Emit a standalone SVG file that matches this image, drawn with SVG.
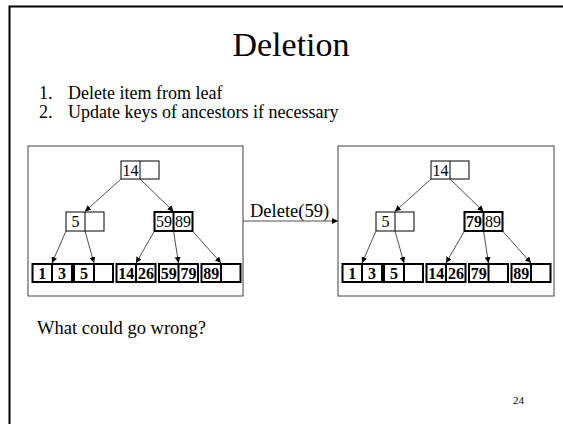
<svg xmlns="http://www.w3.org/2000/svg" width="563" height="424" viewBox="0 0 563 424">
  <style>
    text { font-family: "Liberation Serif", "Times New Roman", serif; fill: #000; }
    .title { font-size: 34px; text-anchor: middle; }
    .body { font-size: 18.5px; }
    .list { font-size: 18px; }
    .num { font-size: 11px; }
    .k { font-size: 16px; text-anchor: middle; }
    .kb { font-size: 16px; text-anchor: middle; font-weight: bold; }
    .panel { fill: #fff; stroke: #404040; stroke-width: 1; }
    .thin { fill: #fff; stroke: #000; stroke-width: 1; }
    .thick { fill: #fff; stroke: #000; stroke-width: 2; }
    .sep1 { stroke: #000; stroke-width: 1; }
    .sep2 { stroke: #000; stroke-width: 2; }
    .edge { stroke: #222; stroke-width: 0.8; fill: none; marker-end: url(#tip); }
  </style>
  <defs>
    <marker id="tip" markerUnits="userSpaceOnUse" markerWidth="6" markerHeight="6" refX="6" refY="3" orient="auto">
      <path d="M0,0 L6,3 L0,6 z" fill="#000"/>
    </marker>
  </defs>

  <rect width="563" height="424" fill="#fff"/>
  <!-- slide frame -->
  <rect x="9.5" y="6.5" width="600" height="500" fill="none" stroke="#000" stroke-width="2"/>

  <text class="title" x="291" y="56">Deletion</text>
  <text class="list" x="39" y="99">1.</text>
  <text class="list" x="68" y="99">Delete item from leaf</text>
  <text class="list" x="39" y="118">2.</text>
  <text class="list" x="68" y="118">Update keys of ancestors if necessary</text>

  <!-- before -->
  <g id="tree-before">
    <rect class="panel" x="28" y="146" width="215" height="150"/>
    <g id="b-connectors">
      <line class="edge" x1="121" y1="179" x2="85" y2="211.5"/>
      <line class="edge" x1="140" y1="179" x2="173.5" y2="211.5"/>
      <line class="edge" x1="66" y1="231" x2="52" y2="263"/>
      <line class="edge" x1="85" y1="231" x2="94" y2="263"/>
      <line class="edge" x1="154.5" y1="231" x2="136" y2="263"/>
      <line class="edge" x1="173.5" y1="231" x2="178.5" y2="263"/>
      <line class="edge" x1="192.5" y1="231" x2="221" y2="263"/>
    </g>
    <g id="b-root">
      <rect class="thin" x="121" y="161" width="38" height="18"/>
      <line class="sep1" x1="140" y1="161" x2="140" y2="179"/>
      <text class="k" x="130.5" y="175.5">14</text>
    </g>
    <g id="b-inner-left">
      <rect class="thin" x="66" y="212" width="38" height="19"/>
      <line class="sep1" x1="85" y1="212" x2="85" y2="231"/>
      <text class="k" x="75.5" y="227">5</text>
    </g>
    <g id="b-inner-right">
      <rect class="thick" x="154.5" y="212" width="38" height="19"/>
      <line class="sep2" x1="173.5" y1="212" x2="173.5" y2="231"/>
      <text class="k" x="164" y="227">59</text>
      <text class="k" x="183" y="227">89</text>
    </g>
    <g id="b-leaf1">
      <rect class="thick" x="32.5" y="264" width="39.5" height="18"/>
      <line class="sep2" x1="52" y1="264" x2="52" y2="282"/>
      <text class="kb" x="42.25" y="278.5">1</text>
      <text class="kb" x="62" y="278.5">3</text>
    </g>
    <g id="b-leaf2">
      <rect class="thick" x="74" y="264" width="39" height="18"/>
      <line class="sep2" x1="94" y1="264" x2="94" y2="282"/>
      <text class="kb" x="84" y="278.5">5</text>
    </g>
    <g id="b-leaf3">
      <rect class="thick" x="116.5" y="264" width="39" height="18"/>
      <line class="sep2" x1="136" y1="264" x2="136" y2="282"/>
      <text class="kb" x="126.25" y="278.5">14</text>
      <text class="kb" x="146" y="278.5">26</text>
    </g>
    <g id="b-leaf4">
      <rect class="thick" x="159" y="264" width="39" height="18"/>
      <line class="sep2" x1="178.5" y1="264" x2="178.5" y2="282"/>
      <text class="kb" x="168.75" y="278.5">59</text>
      <text class="kb" x="188.5" y="278.5">79</text>
    </g>
    <g id="b-leaf5">
      <rect class="thick" x="201.5" y="264" width="39" height="18"/>
      <line class="sep2" x1="221" y1="264" x2="221" y2="282"/>
      <text class="kb" x="211.25" y="278.5">89</text>
    </g>
  </g>

  <!-- operation arrow -->
  <g id="op">
    <line class="edge" x1="243" y1="221" x2="338" y2="221"/>
    <text class="body" x="250" y="217">Delete(59)</text>
  </g>

  <!-- after -->
  <g id="tree-after" transform="translate(310,0)">
    <rect class="panel" x="28" y="146" width="216" height="150"/>
    <g id="a-connectors">
      <line class="edge" x1="121" y1="179" x2="85" y2="211.5"/>
      <line class="edge" x1="140" y1="179" x2="173.5" y2="211.5"/>
      <line class="edge" x1="66" y1="231" x2="52" y2="263"/>
      <line class="edge" x1="85" y1="231" x2="94" y2="263"/>
      <line class="edge" x1="154.5" y1="231" x2="136" y2="263"/>
      <line class="edge" x1="173.5" y1="231" x2="178.5" y2="263"/>
      <line class="edge" x1="192.5" y1="231" x2="221" y2="263"/>
    </g>
    <g id="a-root">
      <rect class="thin" x="121" y="161" width="38" height="18"/>
      <line class="sep1" x1="140" y1="161" x2="140" y2="179"/>
      <text class="k" x="130.5" y="175.5">14</text>
    </g>
    <g id="a-inner-left">
      <rect class="thin" x="66" y="212" width="38" height="19"/>
      <line class="sep1" x1="85" y1="212" x2="85" y2="231"/>
      <text class="k" x="75.5" y="227">5</text>
    </g>
    <g id="a-inner-right">
      <rect class="thick" x="154.5" y="212" width="38" height="19"/>
      <line class="sep2" x1="173.5" y1="212" x2="173.5" y2="231"/>
      <text class="kb" x="164" y="227">79</text>
      <text class="k" x="183" y="227">89</text>
    </g>
    <g id="a-leaf1">
      <rect class="thick" x="32.5" y="264" width="39.5" height="18"/>
      <line class="sep2" x1="52" y1="264" x2="52" y2="282"/>
      <text class="kb" x="42.25" y="278.5">1</text>
      <text class="kb" x="62" y="278.5">3</text>
    </g>
    <g id="a-leaf2">
      <rect class="thick" x="74" y="264" width="39" height="18"/>
      <line class="sep2" x1="94" y1="264" x2="94" y2="282"/>
      <text class="kb" x="84" y="278.5">5</text>
    </g>
    <g id="a-leaf3">
      <rect class="thick" x="116.5" y="264" width="39" height="18"/>
      <line class="sep2" x1="136" y1="264" x2="136" y2="282"/>
      <text class="kb" x="126.25" y="278.5">14</text>
      <text class="kb" x="146" y="278.5">26</text>
    </g>
    <g id="a-leaf4">
      <rect class="thick" x="159" y="264" width="39" height="18"/>
      <line class="sep2" x1="178.5" y1="264" x2="178.5" y2="282"/>
      <text class="kb" x="168.75" y="278.5">79</text>
    </g>
    <g id="a-leaf5">
      <rect class="thick" x="201.5" y="264" width="39" height="18"/>
      <line class="sep2" x1="221" y1="264" x2="221" y2="282"/>
      <text class="kb" x="211.25" y="278.5">89</text>
    </g>
  </g>

  <text class="body" x="37" y="334">What could go wrong?</text>
  <text class="num" x="513" y="404">24</text>
</svg>
